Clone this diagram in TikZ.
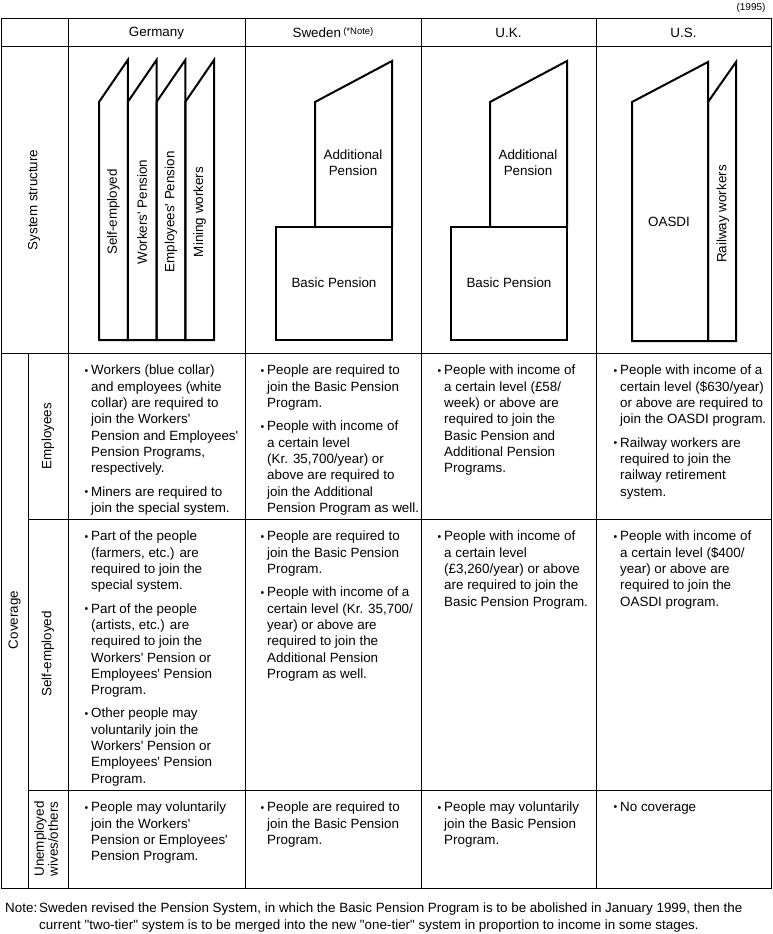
\documentclass[tikz,border=0pt]{standalone}
\usepackage{fontspec}
\setmainfont{Liberation Sans}[Ligatures=TeXOff]
\newcommand{\cellfont}{\fontsize{13.4}{16.3}\selectfont}
\newcommand{\bul}{\makebox[0pt][r]{\raisebox{0.8pt}{\fontsize{10.5}{10.5}\selectfont\textbullet}\hspace{3pt}}}
\begin{document}
\begin{tikzpicture}[x=1pt, y=-1pt,
    grid/.style={line width=1pt},
    tier/.style={line width=2pt, line join=miter},
    cell/.style={anchor=north west, align=left, inner sep=0pt, font=\cellfont},
    head/.style={inner sep=0pt, font=\cellfont},
    vlabel/.style={rotate=90, inner sep=0pt, font=\cellfont}]
    \useasboundingbox (0,0) rectangle (772,934);

    % Сетка таблицы
    \draw[grid] (1,19) rectangle (771,888);
    \foreach \x in {68,245,421,596} {
        \draw[grid] (\x,19) -- (\x,888);
    }
    \draw[grid] (1,47) -- (771,47);
    \draw[grid] (1,353) -- (771,353);
    \draw[grid] (28,353) -- (28,888);
    \draw[grid] (28,519) -- (771,519);
    \draw[grid] (28,790) -- (771,790);

    % Заголовки столбцов
    \node[inner sep=0pt, font=\fontsize{10}{10}\selectfont] (year) at (751,8) {(1995)};
    \node[head] (germany) at (156.5,33) {Germany};
    \node[head] (sweden) at (333,33) {Sweden\,\raisebox{3pt}{\fontsize{9.5}{9.5}\selectfont(*Note)}};
    \node[head] (uk) at (508.5,33) {U.K.};
    \node[head] (us) at (683.5,33) {U.S.};

    % Заголовки строк
    \node[vlabel] (structure) at (34,200) {System structure};
    \node[vlabel] (coverage) at (14.5,620) {Coverage};
    \node[vlabel] (employees) at (48,436) {Employees};
    \node[vlabel] (selfemp) at (48,654) {Self-employed};
    \node[vlabel, align=center, font=\fontsize{13.4}{14}\selectfont] (unemp) at (46,839) {Unemployed\\wives/others};

    % Германия: четыре системы
    \foreach \i/\txt in {0/Self-employed,1/Workers' Pension,2/Employees' Pension,3/Mining workers} {
        \pgfmathsetmacro\l{99+28.75*\i}
        \draw[tier] (\l,340) -- (\l,102) -- (\l+28.75,60) -- (\l+28.75,340) -- cycle;
        \node[vlabel] (ger-\i) at (\l+14.4,212) {\txt};
    }

    % Швеция и Великобритания: две ступени
    \foreach \c/\n in {0/swe,175/uk} {
        \draw[tier] (276+\c,227) rectangle (392+\c,340);
        \draw[tier] (315+\c,227) -- (315+\c,102) -- (392+\c,61) -- (392+\c,227);
        \node[head, align=center] (\n-add) at (353+\c,163) {Additional\\Pension};
        \node[head] (\n-basic) at (334+\c,283) {Basic Pension};
    }

    % США
    \draw[tier] (632,341) -- (632,102) -- (708,62) -- (708,341) -- cycle;
    \draw[tier] (708,341) -- (708,102) -- (736,62) -- (736,341) -- cycle;
    \node[head] (oasdi) at (669,222) {OASDI};
    \node[vlabel] (rail) at (723,214) {Railway workers};

    % Работники по найму
    \node[cell] (ger-emp) at (91,365) {\bul Workers (blue collar)\\and employees (white\\collar) are required to\\join the Workers'\\Pension and Employees'\\Pension Programs,\\respectively.\\[7pt]\bul Miners are required to\\join the special system.};
    \node[cell] (swe-emp) at (267,365) {\bul People are required to\\join the Basic Pension\\Program.\\[7pt]\bul People with income of\\a certain level\\(Kr. 35,700/year) or\\above are required to\\join the Additional\\Pension Program as well.};
    \node[cell] (uk-emp) at (444,365) {\bul People with income of\\a certain level (£58/\\week) or above are\\required to join the\\Basic Pension and\\Additional Pension\\Programs.};
    \node[cell] (us-emp) at (620,365) {\bul People with income of a\\certain level (\$630/year)\\or above are required to\\join the OASDI program.\\[7pt]\bul Railway workers are\\required to join the\\railway retirement\\system.};

    % Самозанятые
    \node[cell] (ger-self) at (91,531) {\bul Part of the people\\(farmers, etc.) are\\required to join the\\special system.\\[7pt]\bul Part of the people\\(artists, etc.) are\\required to join the\\Workers' Pension or\\Employees' Pension\\Program.\\[7pt]\bul Other people may\\voluntarily join the\\Workers' Pension or\\Employees' Pension\\Program.};
    \node[cell] (swe-self) at (267,531) {\bul People are required to\\join the Basic Pension\\Program.\\[7pt]\bul People with income of a\\certain level (Kr. 35,700/\\year) or above are\\required to join the\\Additional Pension\\Program as well.};
    \node[cell] (uk-self) at (444,531) {\bul People with income of\\a certain level\\(£3,260/year) or above\\are required to join the\\Basic Pension Program.};
    \node[cell] (us-self) at (620,531) {\bul People with income of\\a certain level (\$400/\\year) or above are\\required to join the\\OASDI program.};

    % Неработающие жёны и прочие
    \node[cell] (ger-unemp) at (91,802) {\bul People may voluntarily\\join the Workers'\\Pension or Employees'\\Pension Program.};
    \node[cell] (swe-unemp) at (267,802) {\bul People are required to\\join the Basic Pension\\Program.};
    \node[cell] (uk-unemp) at (444,802) {\bul People may voluntarily\\join the Basic Pension\\Program.};
    \node[cell] (us-unemp) at (620,802) {\bul No coverage};

    % Примечание
    \node[cell] (note-h) at (5,903) {Note:};
    \node[cell] (note) at (39,903) {Sweden revised the Pension System, in which the Basic Pension Program is to be abolished in January 1999, then the\\current "two-tier" system is to be merged into the new "one-tier" system in proportion to income in some stages.};
\end{tikzpicture}
\end{document}
